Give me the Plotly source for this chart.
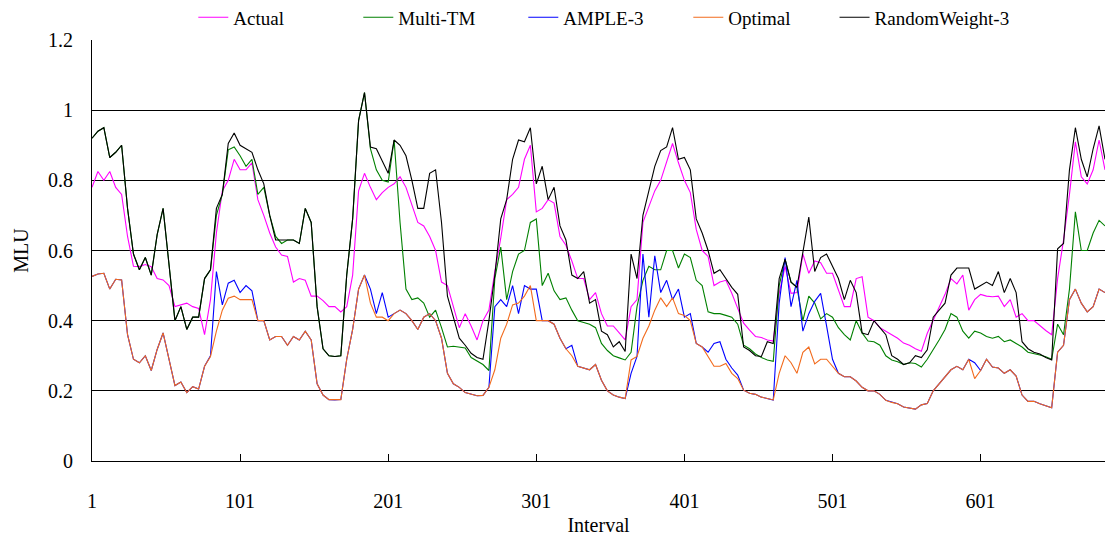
import plotly.graph_objects as go

# Interval index of each sampled point (every 4th interval)
interval = list(range(1, 686, 4))

actual = [
    0.78, 0.825, 0.80, 0.825, 0.78, 0.76, 0.64, 0.555, 0.554, 0.56,
    0.554, 0.52, 0.516, 0.50, 0.44, 0.445, 0.45, 0.44, 0.435, 0.36,
    0.46, 0.65, 0.77, 0.80, 0.86, 0.83, 0.83, 0.85, 0.745, 0.70,
    0.65, 0.61, 0.587, 0.583, 0.51, 0.52, 0.515, 0.47, 0.47, 0.457,
    0.44, 0.44, 0.425, 0.44, 0.53, 0.77, 0.82, 0.78, 0.745, 0.765,
    0.78, 0.79, 0.81, 0.78, 0.73, 0.68, 0.67, 0.64, 0.60, 0.51,
    0.50, 0.44, 0.38, 0.42, 0.385, 0.345, 0.40, 0.43, 0.54, 0.635,
    0.745, 0.76, 0.78, 0.86, 0.90, 0.71, 0.72, 0.745, 0.735, 0.64,
    0.615, 0.57, 0.52, 0.52, 0.46, 0.48, 0.42, 0.385, 0.385, 0.365,
    0.345, 0.44, 0.46, 0.68, 0.725, 0.77, 0.80, 0.855, 0.905, 0.85,
    0.80, 0.765, 0.66, 0.60, 0.583, 0.50, 0.51, 0.515, 0.478, 0.435,
    0.393, 0.373, 0.355, 0.352, 0.345, 0.342, 0.478, 0.555, 0.478, 0.48,
    0.59, 0.535, 0.57, 0.565, 0.535, 0.535, 0.49, 0.44, 0.44, 0.52,
    0.525, 0.41, 0.40, 0.38, 0.37, 0.36, 0.35, 0.336, 0.33, 0.32,
    0.313, 0.364, 0.40, 0.44, 0.475, 0.52, 0.505, 0.53, 0.43, 0.46,
    0.475, 0.47, 0.468, 0.47, 0.44, 0.46, 0.41, 0.42, 0.40, 0.40,
    0.385, 0.372, 0.36, 0.52, 0.63, 0.76, 0.91, 0.81, 0.79, 0.83,
    0.915, 0.83,
]

multi_tm = [
    0.92, 0.94, 0.95, 0.865, 0.88, 0.90, 0.72, 0.59, 0.545, 0.58,
    0.53, 0.645, 0.72, 0.55, 0.40, 0.44, 0.375, 0.41, 0.41, 0.52,
    0.545, 0.70, 0.76, 0.887, 0.895, 0.87, 0.84, 0.86, 0.76, 0.78,
    0.70, 0.64, 0.62, 0.63, 0.63, 0.62, 0.72, 0.68, 0.44, 0.32,
    0.30, 0.298, 0.30, 0.53, 0.69, 0.97, 1.05, 0.89, 0.83, 0.80,
    0.795, 0.915, 0.68, 0.49, 0.46, 0.465, 0.45, 0.41, 0.43, 0.38,
    0.325, 0.327, 0.325, 0.322, 0.295, 0.284, 0.275, 0.258, 0.52, 0.61,
    0.46, 0.54, 0.59, 0.60, 0.68, 0.69, 0.50, 0.535, 0.485, 0.46,
    0.465, 0.43, 0.40, 0.395, 0.39, 0.38, 0.335, 0.315, 0.30, 0.294,
    0.288, 0.31, 0.44, 0.515, 0.555, 0.545, 0.545, 0.60, 0.60, 0.55,
    0.59, 0.58, 0.515, 0.50, 0.425, 0.42, 0.42, 0.415, 0.41, 0.39,
    0.33, 0.32, 0.305, 0.295, 0.288, 0.284, 0.50, 0.575, 0.51, 0.495,
    0.40, 0.47, 0.45, 0.405, 0.42, 0.41, 0.38, 0.36, 0.345, 0.40,
    0.365, 0.342, 0.34, 0.33, 0.30, 0.288, 0.283, 0.275, 0.28, 0.278,
    0.268, 0.29, 0.316, 0.345, 0.375, 0.42, 0.41, 0.37, 0.35, 0.37,
    0.365, 0.355, 0.35, 0.355, 0.34, 0.345, 0.335, 0.325, 0.31, 0.307,
    0.302, 0.297, 0.29, 0.39, 0.36, 0.49, 0.71, 0.60, 0.60, 0.65,
    0.686, 0.67,
]

ample_3 = [
    0.526, 0.533, 0.535, 0.49, 0.518, 0.516, 0.36, 0.29, 0.28, 0.30,
    0.258, 0.318, 0.365, 0.29, 0.215, 0.225, 0.195, 0.212, 0.205, 0.27,
    0.30, 0.54, 0.445, 0.507, 0.515, 0.48, 0.50, 0.485, 0.40, 0.40,
    0.345, 0.355, 0.355, 0.33, 0.355, 0.345, 0.37, 0.345, 0.22, 0.188,
    0.175, 0.174, 0.175, 0.29, 0.375, 0.49, 0.53, 0.49, 0.42, 0.48,
    0.41, 0.42, 0.43, 0.42, 0.40, 0.375, 0.41, 0.42, 0.40, 0.35,
    0.25, 0.22, 0.21, 0.195, 0.19, 0.186, 0.187, 0.21, 0.44, 0.46,
    0.44, 0.50, 0.42, 0.50, 0.49, 0.49, 0.40, 0.40, 0.39, 0.35,
    0.32, 0.33, 0.27, 0.265, 0.26, 0.275, 0.23, 0.20, 0.188, 0.182,
    0.178, 0.25, 0.298, 0.59, 0.41, 0.585, 0.48, 0.515, 0.46, 0.49,
    0.41, 0.42, 0.335, 0.325, 0.31, 0.335, 0.34, 0.29, 0.265, 0.245,
    0.202, 0.193, 0.19, 0.182, 0.178, 0.174, 0.45, 0.58, 0.44, 0.515,
    0.37, 0.42, 0.455, 0.478, 0.385, 0.29, 0.25, 0.24, 0.24, 0.228,
    0.21, 0.20, 0.20, 0.19, 0.173, 0.167, 0.163, 0.154, 0.152, 0.148,
    0.16, 0.164, 0.20, 0.22, 0.24, 0.26, 0.27, 0.26, 0.29, 0.28,
    0.258, 0.29, 0.268, 0.265, 0.25, 0.26, 0.242, 0.188, 0.17, 0.17,
    0.163, 0.158, 0.152, 0.31, 0.33, 0.46, 0.49, 0.45, 0.425, 0.44,
    0.49, 0.48,
]

optimal = [
    0.526, 0.533, 0.535, 0.49, 0.518, 0.516, 0.36, 0.29, 0.28, 0.30,
    0.258, 0.318, 0.365, 0.29, 0.215, 0.225, 0.195, 0.212, 0.205, 0.27,
    0.298, 0.37, 0.43, 0.464, 0.47, 0.46, 0.46, 0.46, 0.40, 0.40,
    0.345, 0.355, 0.355, 0.33, 0.355, 0.345, 0.37, 0.345, 0.22, 0.188,
    0.175, 0.174, 0.175, 0.29, 0.375, 0.49, 0.53, 0.45, 0.41, 0.41,
    0.40, 0.42, 0.43, 0.42, 0.40, 0.375, 0.41, 0.42, 0.40, 0.35,
    0.25, 0.22, 0.21, 0.195, 0.19, 0.186, 0.187, 0.21, 0.26, 0.35,
    0.39, 0.445, 0.45, 0.47, 0.50, 0.40, 0.40, 0.40, 0.39, 0.35,
    0.32, 0.30, 0.27, 0.265, 0.26, 0.275, 0.23, 0.20, 0.188, 0.182,
    0.178, 0.288, 0.298, 0.35, 0.385, 0.43, 0.465, 0.44, 0.465, 0.42,
    0.415, 0.40, 0.335, 0.325, 0.297, 0.27, 0.27, 0.278, 0.25, 0.235,
    0.202, 0.193, 0.19, 0.182, 0.178, 0.174, 0.25, 0.30, 0.28, 0.25,
    0.31, 0.325, 0.277, 0.29, 0.29, 0.27, 0.25, 0.24, 0.24, 0.228,
    0.21, 0.20, 0.20, 0.19, 0.173, 0.167, 0.163, 0.154, 0.152, 0.148,
    0.16, 0.164, 0.20, 0.22, 0.24, 0.26, 0.27, 0.26, 0.29, 0.235,
    0.258, 0.29, 0.268, 0.265, 0.25, 0.26, 0.242, 0.188, 0.17, 0.17,
    0.163, 0.158, 0.152, 0.31, 0.33, 0.46, 0.49, 0.45, 0.425, 0.44,
    0.49, 0.48,
]

random_weight_3 = [
    0.92, 0.94, 0.95, 0.865, 0.88, 0.90, 0.72, 0.59, 0.545, 0.58,
    0.53, 0.645, 0.72, 0.55, 0.40, 0.44, 0.375, 0.41, 0.41, 0.52,
    0.545, 0.72, 0.76, 0.905, 0.935, 0.90, 0.89, 0.88, 0.83, 0.79,
    0.70, 0.63, 0.63, 0.63, 0.63, 0.62, 0.72, 0.68, 0.44, 0.32,
    0.30, 0.298, 0.30, 0.53, 0.69, 0.97, 1.05, 0.895, 0.89, 0.855,
    0.82, 0.915, 0.90, 0.87, 0.80, 0.72, 0.72, 0.82, 0.83, 0.68,
    0.47, 0.41, 0.35, 0.33, 0.307, 0.295, 0.29, 0.40, 0.53, 0.69,
    0.745, 0.86, 0.915, 0.91, 0.95, 0.79, 0.84, 0.745, 0.78, 0.67,
    0.63, 0.53, 0.52, 0.54, 0.45, 0.46, 0.37, 0.36, 0.325, 0.34,
    0.312, 0.59, 0.52, 0.70, 0.77, 0.84, 0.885, 0.895, 0.95, 0.86,
    0.865, 0.83, 0.69, 0.65, 0.60, 0.535, 0.545, 0.52, 0.495, 0.475,
    0.325, 0.315, 0.30, 0.298, 0.34, 0.335, 0.52, 0.575, 0.51, 0.495,
    0.60, 0.695, 0.54, 0.58, 0.59, 0.555, 0.52, 0.46, 0.515, 0.48,
    0.365, 0.36, 0.40, 0.38, 0.36, 0.30, 0.29, 0.275, 0.28, 0.30,
    0.295, 0.317, 0.41, 0.43, 0.45, 0.53, 0.55, 0.55, 0.55, 0.49,
    0.50, 0.51, 0.50, 0.54, 0.48, 0.52, 0.48, 0.34, 0.32, 0.31,
    0.305, 0.295, 0.288, 0.605, 0.62, 0.83, 0.95, 0.86, 0.81, 0.89,
    0.955, 0.86,
]

x_tick_vals = [1, 101, 201, 301, 401, 501, 601]
y_tick_vals = [0, 0.2, 0.4, 0.6, 0.8, 1.0, 1.2]
y_tick_text = ["0", "0.2", "0.4", "0.6", "0.8", "1", "1.2"]

series = [
    ("Actual", actual, "#FF00FF", "legend"),
    ("Multi-TM", multi_tm, "#008000", "legend"),
    ("AMPLE-3", ample_3, "#0000FF", "legend"),
    ("Optimal", optimal, "#F26B1D", "legend"),
    ("RandomWeight-3", random_weight_3, "#000000", "legend2"),
]

FONT = "Liberation Serif"

fig = go.Figure()
for name, vals, color, leg in series:
    fig.add_trace(go.Scatter(
        x=interval, y=vals, mode="lines", name=name, legend=leg,
        line=dict(color=color, width=1.1),
    ))

legend_common = dict(
    orientation="h", yref="container", y=0.968, yanchor="middle",
    font=dict(family=FONT, size=19, color="black"),
    bgcolor="rgba(0,0,0,0)",
)

fig.update_layout(
    width=1107, height=542,
    margin=dict(l=92, r=2, t=40, b=81, autoexpand=False),
    paper_bgcolor="white", plot_bgcolor="white",
    font=dict(family=FONT, size=20, color="black"),
    showlegend=True,
    legend=dict(x=0.1, xanchor="left", entrywidth=120, entrywidthmode="pixels",
                **legend_common),
    legend2=dict(x=0.733, xanchor="left", **legend_common),
)

fig.update_xaxes(
    range=[1, 685], tickvals=x_tick_vals, ticktext=[str(v) for v in x_tick_vals],
    tickfont=dict(family=FONT, size=20),
    showgrid=False, zeroline=False, showline=True, linecolor="black", linewidth=1,
    ticks="inside", ticklen=7, tickcolor="black",
    ticklabelstandoff=22,
    title=dict(text="Interval", font=dict(family=FONT, size=20), standoff=6),
)
fig.update_yaxes(
    range=[0, 1.2], tickvals=y_tick_vals, ticktext=y_tick_text,
    tickfont=dict(family=FONT, size=20),
    showgrid=True, gridcolor="black", gridwidth=1, zeroline=False,
    showline=True, linecolor="black", linewidth=1,
    ticks="", ticklabelstandoff=14,
    title=dict(text="MLU", font=dict(family=FONT, size=20), standoff=14),
)

fig.write_html("out.html")
